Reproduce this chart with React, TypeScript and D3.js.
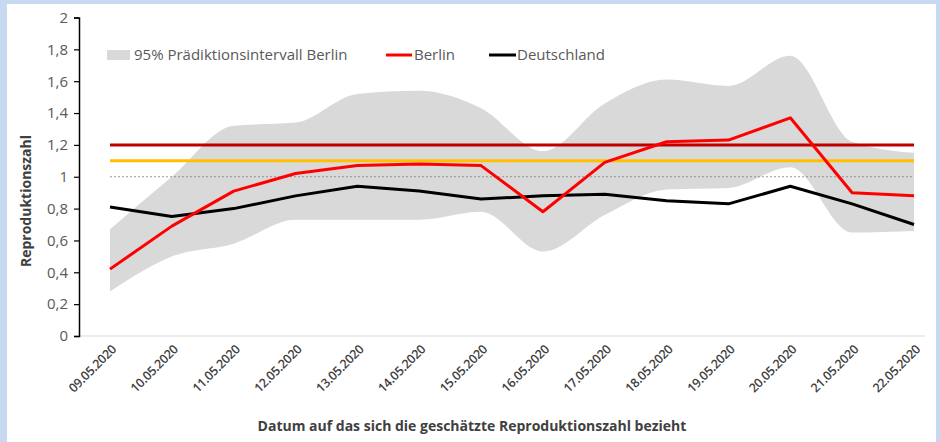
import React, {useRef, useEffect} from 'react';
import * as d3 from 'd3';

const dates = ['09.05.2020', '10.05.2020', '11.05.2020', '12.05.2020', '13.05.2020', '14.05.2020', '15.05.2020',
    '16.05.2020', '17.05.2020', '18.05.2020', '19.05.2020', '20.05.2020', '21.05.2020', '22.05.2020'];
const berlin = [0.42, 0.69, 0.91, 1.02, 1.07, 1.08, 1.07, 0.78, 1.09, 1.22, 1.23, 1.37, 0.90, 0.88];
const deutschland = [0.81, 0.75, 0.80, 0.88, 0.94, 0.91, 0.86, 0.88, 0.89, 0.85, 0.83, 0.94, 0.83, 0.70];
const bandLower = [0.28, 0.50, 0.58, 0.73, 0.73, 0.73, 0.78, 0.53, 0.76, 0.92, 0.93, 1.06, 0.65, 0.66];
const bandUpper = [0.67, 1.00, 1.32, 1.34, 1.52, 1.54, 1.43, 1.16, 1.46, 1.61, 1.57, 1.76, 1.22, 1.15];
const yTicks = [0, 0.2, 0.4, 0.6, 0.8, 1, 1.2, 1.4, 1.6, 1.8, 2];
const refLines = [
    {value: 1.2, color: '#c00000', width: 3, dash: ''},
    {value: 1.1, color: '#ffc000', width: 3, dash: ''},
    {value: 1.0, color: '#7f7f7f', width: 0.8, dash: '2,2'},
];

const W = 940;
const H = 442;
const font = '"Open Sans", "Noto Sans", sans-serif';

const App: React.FC = () => {
    const svgRef = useRef<SVGSVGElement>(null);

    useEffect(() => {
        if (!svgRef.current) return;
        const svg = d3.select(svgRef.current);
        svg.selectAll('*').remove();

        // frame
        svg.append('rect').attr('width', W).attr('height', H).attr('fill', '#c6d9f1');
        svg.append('rect').attr('x', 7).attr('y', 4).attr('width', W - 11).attr('height', H - 4).attr('fill', '#fff');

        const y = d3.scaleLinear().domain([0, 2]).range([336, 17.5]);
        const x = d3.scalePoint<string>().domain(dates).range([110, 914]);

        // band
        const area = d3.area<number>()
            .x((_, i) => x(dates[i])!)
            .y0((_, i) => y(bandLower[i]))
            .y1(d => y(d))
            .curve(d3.curveMonotoneX);
        svg.append('path').datum(bandUpper).attr('d', area).attr('fill', '#d9d9d9');

        // reference lines
        refLines.forEach(r => {
            svg.append('line')
                .attr('x1', x(dates[0])!).attr('x2', x(dates[dates.length - 1])!)
                .attr('y1', y(r.value)).attr('y2', y(r.value))
                .attr('stroke', r.color).attr('stroke-width', r.width)
                .attr('stroke-dasharray', r.dash || null);
        });

        const line = d3.line<number>().x((_, i) => x(dates[i])!).y(d => y(d));
        svg.append('path').datum(deutschland).attr('d', line)
            .attr('fill', 'none').attr('stroke', '#000').attr('stroke-width', 3).attr('stroke-linejoin', 'round');
        svg.append('path').datum(berlin).attr('d', line)
            .attr('fill', 'none').attr('stroke', '#ff0000').attr('stroke-width', 3).attr('stroke-linejoin', 'round');

        // x axis line
        svg.append('line').attr('x1', 79).attr('x2', 925).attr('y1', 336).attr('y2', 336)
            .attr('stroke', '#d9d9d9').attr('stroke-width', 1);

        // y axis
        const yAxis = svg.append('g').attr('transform', 'translate(79,0)')
            .call(d3.axisLeft(y).tickValues(yTicks).tickSize(5).tickPadding(6)
                .tickFormat(d => d3.format('')(d as number).replace('.', ',')));
        yAxis.select('.domain').attr('stroke', '#000').attr('stroke-width', 1.5);
        yAxis.selectAll('.tick line').attr('stroke', '#000').attr('stroke-width', 1.2);
        yAxis.selectAll('.tick text').attr('fill', '#595959').style('font-size', '15px').style('font-family', font);

        // x labels
        dates.forEach(d => {
            svg.append('text')
                .attr('transform', `translate(${x(d)! + 4},${347}) rotate(-45)`)
                .attr('text-anchor', 'end')
                .attr('dy', '0.35em')
                .attr('fill', '#404040')
                .style('font-size', '12.5px')
                .style('font-weight', '600')
                .style('font-family', font)
                .style('letter-spacing', '-0.3px')
                .text(d);
        });

        // axis titles
        svg.append('text')
            .attr('transform', 'translate(31,201) rotate(-90)')
            .attr('text-anchor', 'middle')
            .attr('fill', '#404040')
            .style('font-size', '14px').style('font-weight', 'bold').style('font-family', font)
            .text('Reproduktionszahl');
        svg.append('text')
            .attr('x', 472).attr('y', 431)
            .attr('text-anchor', 'middle')
            .attr('fill', '#404040')
            .style('font-size', '14px').style('font-weight', 'bold').style('font-family', font)
            .text('Datum auf das sich die geschätzte Reproduktionszahl bezieht');

        // legend
        const legY = 55;
        const legend = svg.append('g').style('font-family', font).style('font-size', '15px');
        legend.append('rect').attr('x', 107).attr('y', legY - 5).attr('width', 23).attr('height', 10).attr('fill', '#d9d9d9');
        legend.append('text').attr('x', 134).attr('y', legY).attr('dy', '0.35em').attr('fill', '#595959')
            .text('95% Prädiktionsintervall Berlin');
        legend.append('line').attr('x1', 386).attr('x2', 412).attr('y1', legY).attr('y2', legY)
            .attr('stroke', '#ff0000').attr('stroke-width', 3);
        legend.append('text').attr('x', 414).attr('y', legY).attr('dy', '0.35em').attr('fill', '#595959').text('Berlin');
        legend.append('line').attr('x1', 489).attr('x2', 516).attr('y1', legY).attr('y2', legY)
            .attr('stroke', '#000').attr('stroke-width', 3);
        legend.append('text').attr('x', 517).attr('y', legY).attr('dy', '0.35em').attr('fill', '#595959').text('Deutschland');
    }, []);

    return (
        <svg ref={svgRef} width={W} height={H} viewBox={`0 0 ${W} ${H}`}
             style={{position: 'absolute', left: 0, top: 0}}/>
    );
};

export default App;
